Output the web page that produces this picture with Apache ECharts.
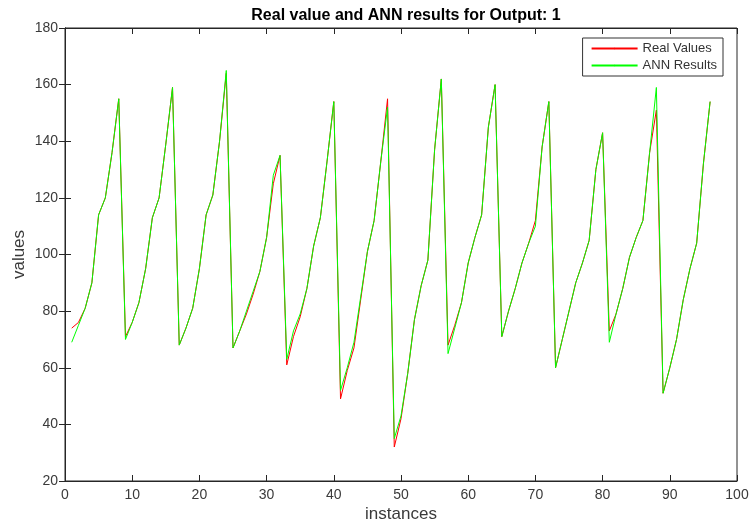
<!DOCTYPE html>
<html>
<head>
<meta charset="utf-8">
<script src="https://cdn.jsdelivr.net/npm/echarts@6/dist/echarts.min.js"></script>
<style>
  html, body { margin: 0; padding: 0; background: #fff; }
  #chart { width: 750px; height: 527px; }
</style>
</head>
<body>
<div id="chart"></div>
<script>
// values, instance 1..96
var realValues = [
  74, 76, 81, 90, 114, 120, 136, 155, 71, 76, 83, 95, 113, 120, 139, 159,
  68, 74, 81, 95, 114, 121, 140, 164, 67, 73, 79, 86, 94, 106, 125, 135,
  61, 71, 78, 88, 103, 113, 133, 154, 49, 59, 67, 84, 101, 112, 133, 155,
  32, 42, 58, 77, 89, 98, 137, 162, 68, 75, 83, 97, 106, 114, 145, 160,
  71, 80, 88, 97, 104, 112, 138, 154, 60, 70, 80, 90, 97, 105, 130, 143,
  73, 79, 88, 99, 106, 112, 136, 151, 51, 60, 70, 84, 95, 104, 132, 154
]
var annResults = [
  69, 75, 81, 90, 114, 120, 136, 155, 70, 76, 83, 95, 113, 120, 139, 159,
  68, 74, 81, 95, 114, 121, 140, 165, 67, 73, 80, 87, 94, 106, 128, 135,
  63, 73, 79, 88, 103, 113, 133, 154, 52, 60, 69, 85, 101, 112, 133, 152,
  35, 43, 58, 77, 89, 98, 137, 162, 65, 74, 83, 97, 106, 114, 145, 160,
  71, 80, 88, 97, 104, 110, 138, 154, 60, 70, 80, 90, 97, 105, 130, 143,
  69, 79, 88, 99, 106, 112, 136, 159, 51, 60, 70, 84, 95, 104, 132, 154
]
var seriesNames = ['Real Values', 'ANN Results']

function toPoints (arr) {
  return arr.map(function (v, i) { return [i + 1, v] })
}

var axisColor = '#262626'
var labelColor = '#3a3a3a'
var font = 'Liberation Sans, Arial, sans-serif'

var myChart = echarts.init(document.getElementById('chart'))
var chartOption = {
  backgroundColor: '#fff',
  animation: false,
  title: {
    text: 'Real value and ANN results for Output: 1',
    left: 401,
    top: 3,
    textAlign: 'center',
    textStyle: { fontFamily: font, fontSize: 16, fontWeight: 'bold', color: '#000' }
  },
  legend: {
    data: seriesNames,
    orient: 'vertical',
    right: 27,
    top: 38,
    itemWidth: 46,
    itemHeight: 2,
    itemGap: 4,
    padding: [4, 6, 4, 8],
    borderColor: '#333',
    borderWidth: 1,
    backgroundColor: '#fff',
    textStyle: { fontFamily: font, fontSize: 13, color: '#333' }
  },
  grid: {
    left: 65,
    right: 13,
    top: 28,
    bottom: 46,
    containLabel: false,
    outerBoundsMode: 'none',
    show: true,
    borderColor: axisColor,
    borderWidth: 1
  },
  xAxis: [
    {
      type: 'value',
      min: 0,
      max: 100,
      interval: 10,
      name: 'instances',
      nameLocation: 'middle',
      nameGap: 25,
      nameMoveOverlap: false,
      nameTextStyle: { fontFamily: font, fontSize: 17, color: labelColor },
      axisLine: { lineStyle: { color: axisColor } },
      axisTick: { inside: true, length: 6, lineStyle: { color: axisColor } },
      axisLabel: { fontFamily: font, fontSize: 14, color: labelColor, margin: 7 },
      splitLine: { show: false }
    },
    {
      type: 'value',
      position: 'top',
      min: 0,
      max: 100,
      interval: 10,
      axisLine: { lineStyle: { color: axisColor } },
      axisTick: { inside: true, length: 6, lineStyle: { color: axisColor } },
      axisLabel: { show: false },
      splitLine: { show: false }
    }
  ],
  yAxis: [
    {
      type: 'value',
      min: 20,
      max: 180,
      interval: 20,
      name: 'values',
      nameLocation: 'middle',
      nameGap: 37,
      nameMoveOverlap: false,
      nameTextStyle: { fontFamily: font, fontSize: 17, color: labelColor },
      axisLine: { show: true, lineStyle: { color: axisColor } },
      axisTick: { show: true, inside: true, length: 6, lineStyle: { color: axisColor } },
      axisLabel: { fontFamily: font, fontSize: 14, color: labelColor, margin: 7 },
      splitLine: { show: false }
    },
    {
      type: 'value',
      position: 'right',
      min: 20,
      max: 180,
      interval: 20,
      axisLine: { show: true, lineStyle: { color: axisColor } },
      axisTick: { show: true, inside: true, length: 6, lineStyle: { color: axisColor } },
      axisLabel: { show: false },
      splitLine: { show: false }
    }
  ],
  series: [
    {
      name: seriesNames[0],
      type: 'line',
      symbol: 'none',
      lineStyle: { color: '#ff0000', width: 1 },
      itemStyle: { color: '#ff0000' },
      data: toPoints(realValues)
    },
    {
      name: seriesNames[1],
      type: 'line',
      symbol: 'none',
      lineStyle: { color: '#00ff00', width: 1 },
      itemStyle: { color: '#00ff00' },
      data: toPoints(annResults)
    }
  ]
}
myChart.setOption(chartOption)
</script>
</body>
</html>
